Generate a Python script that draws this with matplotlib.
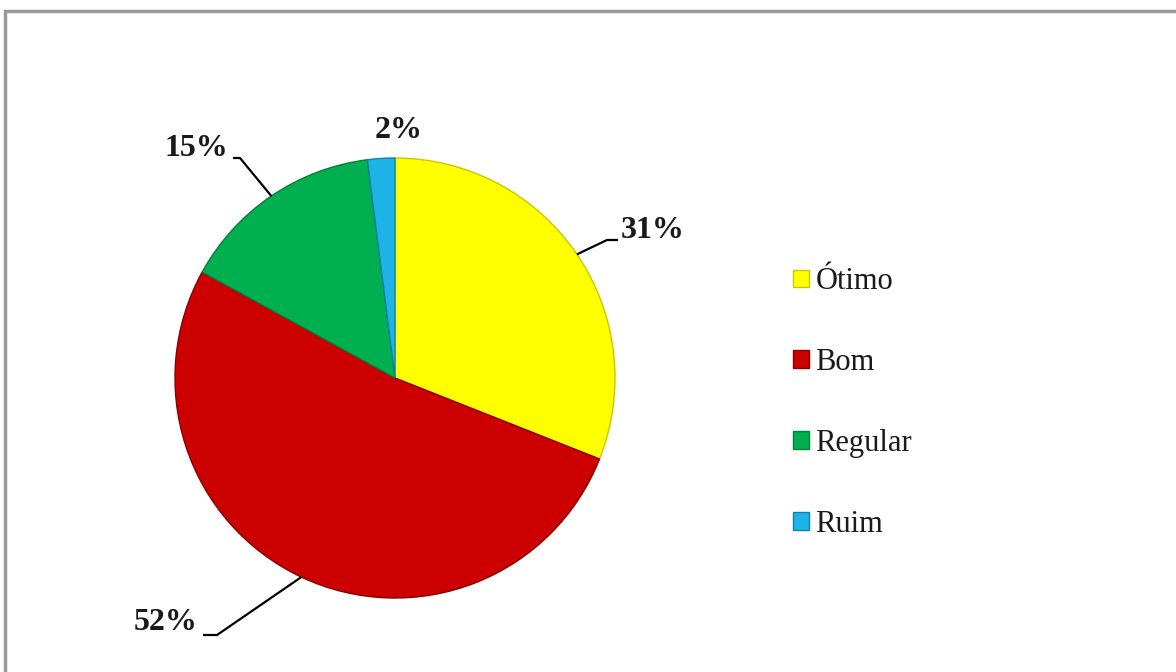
import numpy as np
import matplotlib
matplotlib.use("Agg")
import matplotlib.pyplot as plt
from matplotlib.patches import Rectangle

categories = ["Ótimo", "Bom", "Regular", "Ruim"]
shares = [31, 52, 15, 2]
colors = ["#FFFF00", "#CC0000", "#00B050", "#1FB4E8"]
edges = ["#C8C800", "#8A0000", "#00803A", "#0F80A8"]

# label text centre and leader elbow/end, in pixels of the 1176x672 canvas
label_pos = [(653, 230), (166, 623), (196, 148), (399, 130)]
leader_knee = [[(607, 240), (618, 240)],
               [(217, 635), (203, 635)],
               [(240, 158), (233, 158)],
               None]

W, H = 1176, 672
CX, CY, R = 395, 378, 220

plt.rcParams["font.family"] = ["Liberation Serif", "DejaVu Serif"]

fig = plt.figure(figsize=(W / 100, H / 100), dpi=100)
ax = fig.add_axes([0, 0, 1, 1])


def px(p):
    return ((p[0] - CX) / R, (CY - p[1]) / R)


wedges, _ = ax.pie(shares, colors=colors, startangle=90, counterclock=False,
                   radius=1, center=(0, 0), frame=True,
                   wedgeprops=dict(linewidth=1.0))
for w, ec in zip(wedges, edges):
    w.set_edgecolor(ec)
ax.set_xlim(-CX / R, (W - CX) / R)
ax.set_ylim(-(H - CY) / R, CY / R)
ax.set_aspect("auto")
ax.axis("off")

# leader lines and percentage labels
for w, v, lp, knee in zip(wedges, shares, label_pos, leader_knee):
    mid = np.deg2rad((w.theta1 + w.theta2) / 2)
    start = (np.cos(mid), np.sin(mid))
    if knee is not None:
        pts = [start] + [px(k) for k in knee]
        xs, ys = zip(*pts)
        ax.plot(xs, ys, color="black", lw=1.6, solid_capstyle="butt")
    tx, ty = px(lp)
    ax.text(tx, ty, f"{v}%", ha="center", va="center", fontsize=23,
            fontweight="bold", color="#1a1a1a")

leg = ax.legend(wedges, categories, loc="center left",
                bbox_to_anchor=(778 / W, 1 - 403 / H), frameon=False,
                fontsize=22, labelspacing=1.7, handlelength=0.5,
                handleheight=0.5, handletextpad=0.22, borderpad=0)
for t in leg.get_texts():
    t.set_color("#1a1a1a")

# outer frame (top and left edges visible)
fig.add_artist(Rectangle((5 / W, -0.1), 1.2, (H - 11) / H + 0.1,
                         transform=fig.transFigure, fill=False,
                         edgecolor="#9a9a9a", linewidth=2.5))

fig.savefig("out.png", dpi=100, facecolor="white")
